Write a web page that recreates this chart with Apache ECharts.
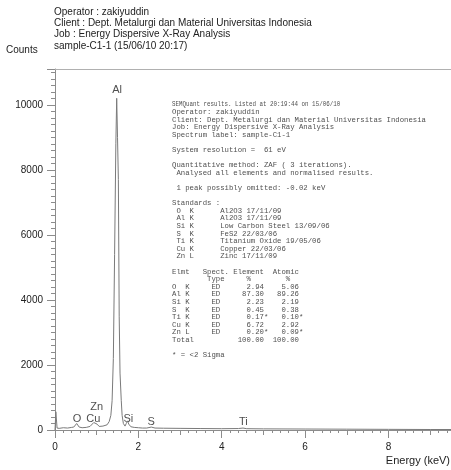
<!DOCTYPE html>
<html>
<head>
<meta charset="utf-8">
<script src="https://cdn.jsdelivr.net/npm/echarts@6/dist/echarts.min.js"></script>
<style>
  html, body { margin: 0; padding: 0; background: #fff; }
  #chart { width: 451px; height: 470px; }
</style>
</head>
<body>
<div id="chart"></div>
<script>
// EDX spectrum of sample-C1-1: energy (keV) vs counts
const energy = [
  0.00, 0.02, 0.05, 0.10, 0.20, 0.30, 0.40, 0.45, 0.52, 0.58, 0.65, 0.75, 0.84,
  0.88, 0.93, 1.01, 1.06, 1.15, 1.25, 1.30, 1.34, 1.37, 1.40, 1.43, 1.46, 1.48,
  1.50, 1.52, 1.54, 1.56, 1.59, 1.61, 1.64, 1.68, 1.71, 1.74, 1.77, 1.82, 1.90,
  2.00, 2.10, 2.20, 2.31, 2.40, 2.60, 3.00, 3.50, 4.00, 4.40, 4.51, 4.60, 5.00,
  6.00, 7.00, 8.00, 9.00, 9.50
];
const counts = [
  0, 560, 60, 50, 70, 60, 80, 90, 200, 90, 70, 80, 110,
  150, 230, 180, 110, 120, 160, 260, 450, 900, 2200, 5400, 8800, 10200,
  9000, 7700, 3500, 1750, 900, 450, 200, 120, 200, 280, 180, 100, 80,
  70, 60, 60, 90, 60, 55, 50, 45, 40, 45, 60, 40, 35,
  30, 25, 20, 15, 15
];

// Element line labels (name, energy keV, label height in counts)
const peakNames = ['O', 'Cu', 'Zn', 'Al', 'Si', 'S', 'Ti'];
const peakEnergy = [0.53, 0.92, 1.00, 1.49, 1.76, 2.31, 4.52];
const peakLabelY = [340, 340, 710, 10450, 340, 260, 260];

const headerLines = [
  'Operator : zakiyuddin',
  'Client : Dept. Metalurgi dan Material Universitas Indonesia',
  'Job : Energy Dispersive X-Ray Analysis',
  'sample-C1-1 (15/06/10 20:17)'
];

// Quantification report
const stdElements = ['O  K', 'Al K', 'Si K', 'S  K', 'Ti K', 'Cu K', 'Zn L'];
const stdNames = ['Al2O3 17/11/09', 'Al2O3 17/11/09', 'Low Carbon Steel 13/09/06',
  'FeS2 22/03/06', 'Titanium Oxide 19/05/06', 'Copper 22/03/06', 'Zinc 17/11/09'];
const quantElements = ['O  K', 'Al K', 'Si K', 'S  K', 'Ti K', 'Cu K', 'Zn L'];
const elementPct = ['2.94', '87.30', '2.23', '0.45', '0.17', '6.72', '0.20'];
const atomicPct = ['5.06', '89.26', '2.19', '0.38', '0.10', '2.92', '0.09'];
const belowSigma = [false, false, false, false, true, false, true];

const report = [
  'SEMQuant results. Listed at 20:19:44 on 15/06/10',
  'Operator: zakiyuddin',
  'Client: Dept. Metalurgi dan Material Universitas Indonesia',
  'Job: Energy Dispersive X-Ray Analysis',
  'Spectrum label: sample-C1-1',
  '',
  'System resolution =  61 eV',
  '',
  'Quantitative method: ZAF ( 3 iterations).',
  ' Analysed all elements and normalised results.',
  '',
  ' 1 peak possibly omitted: -0.02 keV',
  '',
  'Standards :'
];
stdElements.forEach((e, i) => report.push(' ' + e + '      ' + stdNames[i]));
report.push('');
report.push('Elmt   Spect. Element  Atomic');
report.push('        Type     %        %');
quantElements.forEach((e, i) => {
  const star = belowSigma[i] ? '*' : ' ';
  report.push(e.padEnd(9) + 'ED' + elementPct[i].padStart(10) + star +
    atomicPct[i].padStart(7) + star);
});
report.push('Total'.padEnd(11) + '100.00'.padStart(10) + ' ' + '100.00'.padStart(7));
report.push('');
report.push('* = <2 Sigma');

const chart = echarts.init(document.getElementById('chart'), null, { renderer: 'canvas' });

const axisGray = '#8c8c8c';
const textDark = '#222';
const sans = 'Liberation Sans, Arial, sans-serif';

const graphics = [];
headerLines.forEach((t, i) => {
  graphics.push({
    type: 'text', left: 54, top: 7 + i * 11.3,
    style: { text: t, font: '10px ' + sans, fill: textDark }
  });
});
graphics.push({
  type: 'text', left: 6, top: 45,
  style: { text: 'Counts', font: '10px ' + sans, fill: textDark }
});
graphics.push({
  type: 'text', right: 1, top: 455,
  style: { text: 'Energy (keV)', font: '11px ' + sans, fill: textDark }
});
// the listing's title line is printed condensed
graphics.push({
  type: 'group', left: 172, top: 101,
  children: report.map((t, i) => ({
    type: 'text', x: 0, y: i * 7.6, scaleX: i === 0 ? 0.8 : 1,
    style: { text: t, font: '7.3px "Liberation Mono", monospace', fill: '#505050', verticalAlign: 'top' }
  }))
});

const plainNumber = v => String(v);

const option = {
  animation: false,
  backgroundColor: '#fff',
  grid: { left: 55, right: 0, top: 69, bottom: 40, containLabel: false },
  xAxis: [
    {
      type: 'value', min: 0, max: 9.5, interval: 2,
      axisLine: { show: true, onZero: false, lineStyle: { color: axisGray, width: 1 } },
      axisTick: { show: true, length: 8, lineStyle: { color: axisGray } },
      minorTick: { show: true, splitNumber: 10, length: 3, lineStyle: { color: axisGray } },
      axisLabel: { margin: 12, color: textDark, fontSize: 10, fontFamily: sans, showMaxLabel: false, formatter: plainNumber },
      splitLine: { show: false }
    },
    {
      type: 'value', min: 0, max: 9.5, interval: 1, position: 'bottom',
      axisLine: { show: false },
      axisTick: { show: true, length: 5, lineStyle: { color: axisGray } },
      axisLabel: { show: false },
      splitLine: { show: false }
    },
    {
      type: 'value', min: 0, max: 9.5, position: 'top',
      axisLine: { show: true, onZero: false, lineStyle: { color: '#b0b0b0', width: 1 } },
      axisTick: { show: false },
      axisLabel: { show: false },
      splitLine: { show: false }
    }
  ],
  yAxis: {
    type: 'value', min: 0, max: 11100, interval: 2000,
    axisLine: { show: true, onZero: false, lineStyle: { color: axisGray, width: 1 } },
    axisTick: { show: true, length: 8, lineStyle: { color: axisGray } },
    minorTick: { show: true, splitNumber: 10, length: 4, lineStyle: { color: axisGray } },
    axisLabel: { margin: 12, color: textDark, fontSize: 10, fontFamily: sans, showMaxLabel: false, formatter: plainNumber },
    splitLine: { show: false }
  },
  series: [
    {
      type: 'line',
      xAxisIndex: 0,
      data: energy.map((e, i) => [e, counts[i]]),
      showSymbol: false,
      lineStyle: { color: '#7a7a7a', width: 1 },
      silent: true
    },
    {
      type: 'scatter',
      xAxisIndex: 0,
      data: peakNames.map((n, i) => ({ name: n, value: [peakEnergy[i], peakLabelY[i]] })),
      symbolSize: 1,
      itemStyle: { color: 'rgba(0,0,0,0)' },
      label: {
        show: true, position: 'inside', formatter: '{b}',
        color: textDark, fontSize: 11, fontFamily: sans
      },
      silent: true
    }
  ],
  graphic: graphics
};

chart.setOption(option);
</script>
</body>
</html>
